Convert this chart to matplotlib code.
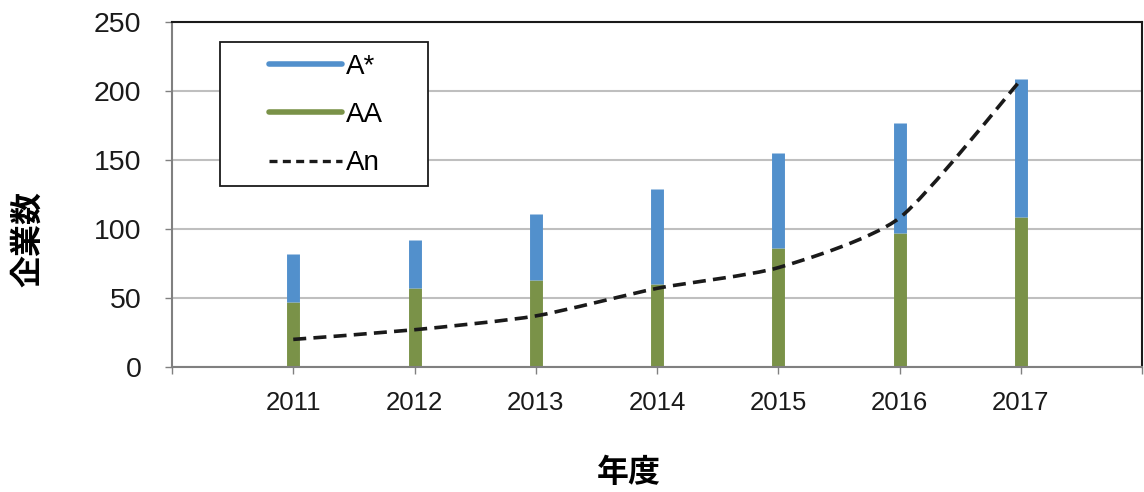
import matplotlib
matplotlib.use("Agg")
import matplotlib.pyplot as plt
from matplotlib.path import Path
from matplotlib.patches import PathPatch, Rectangle
from matplotlib.lines import Line2D

years = [2011, 2012, 2013, 2014, 2015, 2016, 2017]
a_star = [82, 92, 111, 129, 155, 177, 209]
aa = [47, 57, 63, 60, 86, 97, 109]
an = [20, 27, 37, 57, 72, 108, 208]
yticks = [0, 50, 100, 150, 200, 250]
series_names = ["A*", "AA", "An"]
xlabel = "年度"
ylabel = "企業数"

blue = "#5290CC"
green = "#7A9248"
gridc = "#BFBFBF"
axc = "#808080"

plt.rcParams['font.family'] = ['Liberation Sans', 'DejaVu Sans']

fig = plt.figure(figsize=(11.44, 4.92), dpi=100)
ax = fig.add_axes([172/1144, 1-367/492, 970/1144, 345/492])

ax.set_xlim(years[0]-1, years[-1]+1)
ax.set_ylim(0, 250)

ax.yaxis.grid(True, color=gridc, lw=1.5, zorder=0)
ax.set_axisbelow(True)

# bars drawn as thick vertical lines
ax.vlines(years, 0, aa, colors=green, lw=9.3, zorder=2)
ax.vlines(years, aa, a_star, colors=blue, lw=9.3, zorder=2)

# smoothed dashed line (Bezier through data points)
pts = list(zip(years, an))
verts = [pts[0]]
codes = [Path.MOVETO]
n = len(pts)
k = 1/9
for i in range(n-1):
    p0 = pts[i-1] if i > 0 else pts[i]
    p1 = pts[i]
    p2 = pts[i+1]
    p3 = pts[i+2] if i+2 < n else pts[i+1]
    c1 = (p1[0] + (p2[0]-p0[0])*k, p1[1] + (p2[1]-p0[1])*k)
    c2 = (p2[0] - (p3[0]-p1[0])*k, p2[1] - (p3[1]-p1[1])*k)
    verts += [c1, c2, p2]
    codes += [Path.CURVE4]*3
patch = PathPatch(Path(verts, codes), facecolor='none', edgecolor='#1a1a1a',
                  lw=2.6, linestyle=(0, (3.6, 2.0)), zorder=3, capstyle='butt')
ax.add_patch(patch)

# spines
for s in ['top', 'right']:
    ax.spines[s].set_color('#1a1a1a')
    ax.spines[s].set_linewidth(1.5)
for s in ['left', 'bottom']:
    ax.spines[s].set_color(axc)
    ax.spines[s].set_linewidth(1.5)

ax.set_yticks(yticks)
ax.set_yticklabels([str(v) for v in yticks], fontsize=20.5, color='#1a1a1a')
ax.set_xticks(list(range(years[0]-1, years[-1]+2)))
ax.set_xticklabels([''] + [str(y) for y in years] + [''], fontsize=18.5, color='#1a1a1a')
ax.tick_params(axis='y', length=5, width=1, color=axc, pad=17)
ax.tick_params(axis='x', length=5, width=1, color=axc, pad=12)

# legend box
rect = Rectangle((48/970, (367-186)/345), 208/970, 144/345, transform=ax.transAxes,
                 facecolor='white', edgecolor='#1a1a1a', lw=1.3, zorder=4)
ax.add_patch(rect)
handles = [Line2D([], [], color=blue, lw=4, solid_capstyle='round'),
           Line2D([], [], color=green, lw=4, solid_capstyle='round'),
           Line2D([], [], color='#1a1a1a', lw=2.4, linestyle=(0, (2.4, 1.6)))]
leg = ax.legend(handles, series_names, loc='center', bbox_to_anchor=(154/970, (367-115)/345),
                frameon=False, fontsize=20, handlelength=2.6, handletextpad=0.15,
                labelspacing=0.8, borderpad=0)
leg.set_zorder(5)

fig.text(28/1144, 1-239/492, ylabel, rotation=90, ha='center', va='center',
         fontsize=23, fontweight='bold', family=['Noto Sans CJK JP', 'DejaVu Sans'])
fig.text(629/1144, 1-473/492, xlabel, ha='center', va='center',
         fontsize=23, fontweight='bold', family=['Noto Sans CJK JP', 'DejaVu Sans'])

fig.savefig("out.png", dpi=100)
